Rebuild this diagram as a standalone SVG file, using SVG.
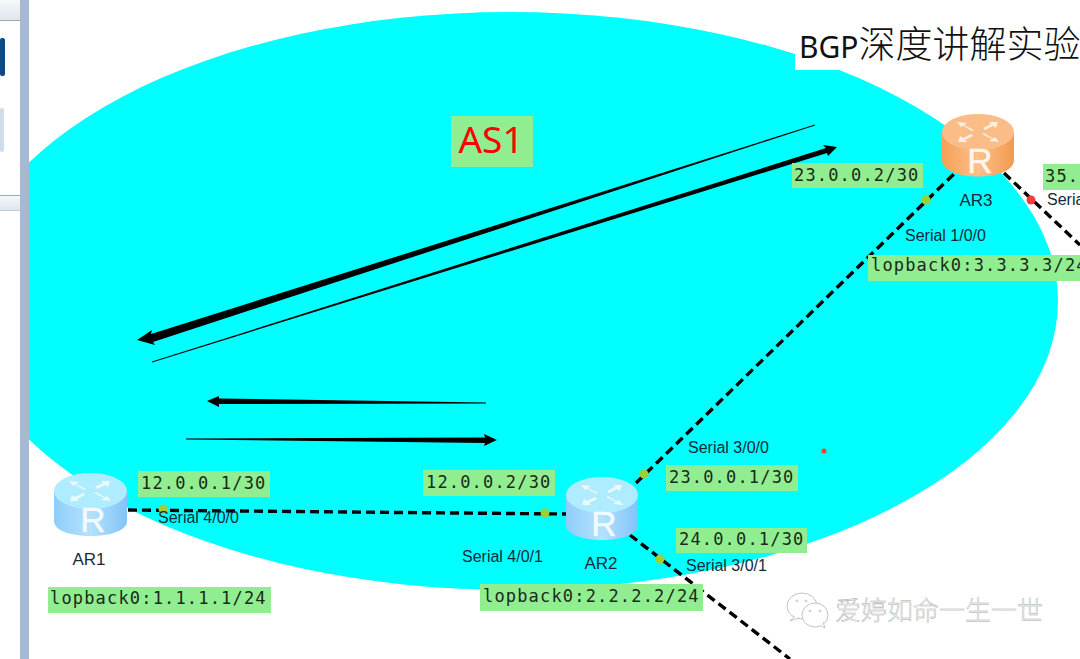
<svg xmlns="http://www.w3.org/2000/svg" width="1080" height="659" viewBox="0 0 1080 659">
<defs>
<style>
.lb{fill:#90ee90}
.m{font-family:"DejaVu Sans Mono","Liberation Mono",monospace;font-size:17px;fill:#1a2a1a;letter-spacing:1.17px}
.s{font-family:"Liberation Sans",Arial,sans-serif;font-size:16px;fill:#102a3a}
.n{font-family:"Liberation Sans",Arial,sans-serif;font-size:17px;fill:#1a2a3a}
.d{stroke:#000;stroke-width:3.4;stroke-dasharray:9 5;fill:none}
.g{fill:#9fd032}
.cap{fill:#fff;fill-opacity:.85;font-family:"Liberation Sans",sans-serif;font-size:35px;text-anchor:middle;stroke:#fff;stroke-opacity:.7;stroke-width:.6}
</style>
<linearGradient id="blue" x1="0" x2="1" y1="0" y2="0"><stop offset="0" stop-color="#8fcdfa"/><stop offset=".5" stop-color="#b4e2fd"/><stop offset="1" stop-color="#82c3f8"/></linearGradient>
<linearGradient id="or" x1="0" x2="1" y1="0" y2="0"><stop offset="0" stop-color="#f5a055"/><stop offset=".5" stop-color="#fcc08a"/><stop offset="1" stop-color="#f29a4e"/></linearGradient>
<g id="glyph" fill="#fff" opacity=".75">
<path d="M-4 -2 L-14 -7 L-11 -9 L-21 -10 L-17 -5 L-15 -6.500 L-6 -1Z"/>
<path d="M4 2 L14 7 L11 9 L21 10 L17 5 L15 6.500 L6 1Z"/>
<path d="M7 -2 L15 -6 L18 -4 L20 -10 L11 -10 L13 -8 L5 -4Z"/>
<path d="M-7 2 L-15 6 L-18 4 L-20 10 L-11 10 L-13 8 L-5 4Z"/>
</g>
<clipPath id="clip"><rect x="29" y="0" width="1051" height="659"/></clipPath>
<linearGradient id="side" x1="0" x2="0" y1="0" y2="1"><stop offset="0" stop-color="#f6f8fb"/><stop offset="1" stop-color="#dfe6ee"/></linearGradient>
</defs>
<rect width="1080" height="659" fill="#fff"/>
<g id="chrome">
<rect x="0" y="0" width="20" height="20" fill="url(#side)"/>
<rect x="0" y="20" width="20" height="1" fill="#9aa8b8"/>
<rect x="0" y="38" width="5" height="38" rx="2" fill="#0e4b85"/>
<rect x="0" y="108" width="4" height="44" rx="2" fill="#cfdcea"/>
<rect x="0" y="195" width="20" height="1" fill="#9aa8b8"/>
<rect x="0" y="196" width="20" height="14" fill="url(#side)"/>
<rect x="0" y="210" width="20" height="1" fill="#c0c8d2"/>
<rect x="20" y="0" width="9" height="659" fill="#a5b9d2"/>
</g>
<ellipse id="as-area" cx="510" cy="301" rx="548" ry="289" fill="#0ff" clip-path="url(#clip)"/>
<g id="title">
<rect x="795" y="28" width="285" height="42" fill="#fff"/>
<text x="799" y="58" font-family="'Noto Sans','Noto Sans CJK SC',sans-serif" font-size="30" fill="#111">BGP<tspan font-family="'Noto Sans CJK SC',sans-serif" font-size="37" font-weight="300">深度讲解实验</tspan></text>
</g>
<g id="as-label"><rect x="451" y="116" width="82" height="51" class="lb"/><text x="491" y="153" font-family="'Noto Sans','Liberation Sans',sans-serif" font-size="37" fill="#f00" text-anchor="middle">AS1</text></g>
<g id="connectors">
<path class="d" d="M128 510 L566 514"/>
<path class="d" d="M636 483 L960 168"/>
<path class="d" d="M630 535 L790 659"/>
<path class="d" d="M1004 173 L1080 245"/>
<circle class="g" cx="163" cy="509" r="4.500"/>
<circle class="g" cx="545" cy="513" r="4.500"/>
<circle class="g" cx="644" cy="474" r="4.500"/>
<circle class="g" cx="660" cy="559" r="4.500"/>
<circle class="g" cx="926" cy="200" r="4.500"/>
<circle fill="#f33c3c" cx="1031" cy="200" r="4.500"/>
<circle fill="#f33c3c" cx="824" cy="451" r="2.500"/>
<path d="M137 340 L152 330 L151 334 L815 124.600 L815 125.400 L153 342 L155 345Z" fill="#000"/>
<path d="M152 361.600 L826 148 L823 145 L837 147 L828 156 L827 153 L152 362.400Z" fill="#000"/>
<path d="M207 401 L219 396 L219 398.500 L486 402.500 L486 403.500 L219 404 L219 407Z" fill="#000"/>
<path d="M186 438.500 L485 437.500 L484 434 L497 440 L484 446 L485 443 L186 439.500Z" fill="#000"/>
</g>
<g id="AR1">
<path d="M54 491 V521 C54 541 127 541 127 521 V491Z" fill="url(#blue)"/>
<ellipse cx="90.500" cy="491" rx="36.500" ry="18" fill="#b0ecff"/>
<use href="#glyph" x="90" y="491"/>
<text x="93" y="532" class="cap">R</text>
<text x="89" y="565" class="n" text-anchor="middle">AR1</text>
</g>
<g id="AR2">
<path d="M566 495 V525 C566 545 638 545 638 525 V495Z" fill="url(#blue)"/>
<ellipse cx="602" cy="495" rx="36" ry="18" fill="#b0ecff"/>
<use href="#glyph" x="602" y="495"/>
<text x="604" y="536" class="cap">R</text>
<text x="601" y="569" class="n" text-anchor="middle">AR2</text>
</g>
<g id="AR3">
<path d="M942 132 V160 C942 182 1014 182 1014 160 V132Z" fill="url(#or)"/>
<ellipse cx="978" cy="132" rx="36" ry="18" fill="#fbbd87"/>
<use href="#glyph" x="978" y="132"/>
<text x="980" y="173" class="cap">R</text>
<text x="976" y="206" class="n" text-anchor="middle">AR3</text>
</g>
<g id="labels">
<rect class="lb" x="138" y="471" width="132" height="26"/><text class="m" x="141" y="489">12.0.0.1/30</text>
<rect class="lb" x="423" y="470" width="132" height="26"/><text class="m" x="426" y="488">12.0.0.2/30</text>
<rect class="lb" x="666" y="465" width="132" height="26"/><text class="m" x="669" y="483">23.0.0.1/30</text>
<rect class="lb" x="676" y="528" width="131" height="25"/><text class="m" x="679" y="545">24.0.0.1/30</text>
<rect class="lb" x="792" y="163" width="131" height="25"/><text class="m" x="794" y="181">23.0.0.2/30</text>
<rect class="lb" x="1043" y="164" width="37" height="26"/><text class="m" x="1045" y="182">35.</text>
<rect class="lb" x="48" y="587" width="223" height="26"/><text class="m" x="50" y="604">lopback0:1.1.1.1/24</text>
<rect class="lb" x="480" y="584" width="223" height="27"/><text class="m" x="483" y="602">lopback0:2.2.2.2/24</text>
<rect class="lb" x="868" y="255" width="212" height="26"/><text class="m" x="871" y="271">lopback0:3.3.3.3/24</text>
<text class="s" x="158" y="523">Serial 4/0/0</text>
<text class="s" x="462" y="562">Serial 4/0/1</text>
<text class="s" x="688" y="453">Serial 3/0/0</text>
<text class="s" x="686" y="571">Serial 3/0/1</text>
<text class="s" x="905" y="241">Serial 1/0/0</text>
<text class="s" x="1047" y="205">Seria</text>
</g>
<g id="watermark" fill="#fff" stroke="#c4c4c4" stroke-width="1">
<ellipse cx="802" cy="606" rx="15" ry="13"/>
<path d="M794 617 L790 621 L799 618"/>
<ellipse cx="815" cy="615" rx="13" ry="12"/>
<path d="M821 626 L825 628 L823 622"/>
<circle cx="797" cy="601" r="1"/><circle cx="806" cy="601" r="1"/><circle cx="810" cy="611" r="1"/><circle cx="820" cy="611" r="1"/>
<text x="835" y="620" font-family="'Noto Sans CJK SC',sans-serif" font-weight="300" font-size="26" fill="#f6f6f6" stroke="#a8a8a8" stroke-width=".4">爱婷如命一生一世</text>
</g>
</svg>
